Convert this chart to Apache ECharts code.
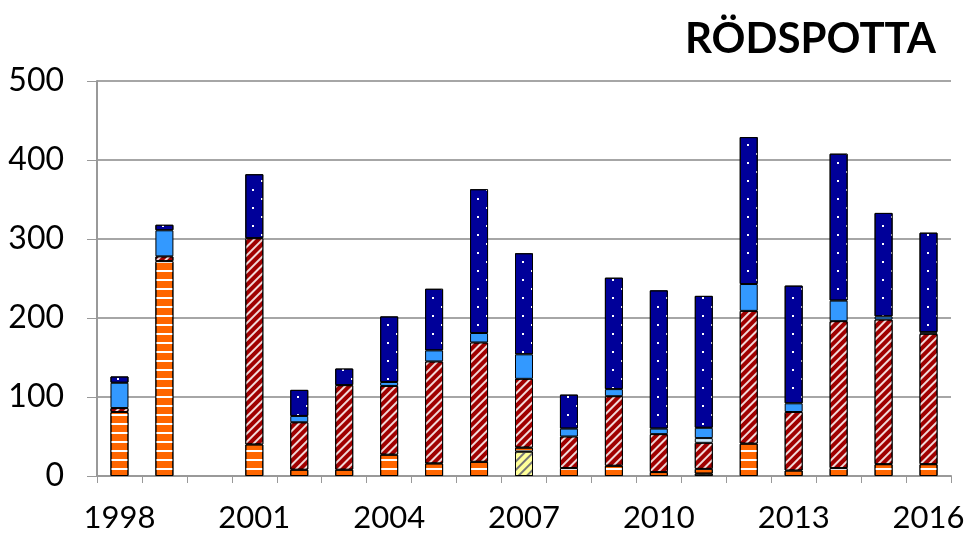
<!DOCTYPE html>
<html>
<head>
<meta charset="utf-8">
<script src="https://cdn.jsdelivr.net/npm/echarts@6/dist/echarts.min.js"></script>
<style>html,body{margin:0;padding:0;background:#fff;}#c{width:971px;height:535px;}</style>
</head>
<body>
<div id="c"></div>
<script>
var years = ['1998','1999','2000','2001','2002','2003','2004','2005','2006','2007','2008','2009','2010','2011','2012','2013','2014','2015','2016'];
var yellowVals = [0,0,0,0,0,0,0,0,0,31,0,0,0,3,0,0,0,0,0];
var orangeVals = [81,272,0,40,8,8,27,16,18,5,10,13,5,6,41,7,10,15,15];
var redVals    = [5,6,0,261,60,107,87,129,151,87,40,88,48,33,168,74,186,183,165];
var paleVals   = [0,0,0,0,0,0,0,0,0,0,0,0,0,6,0,0,0,0,0];
var blueVals   = [32,33,0,0,8,0,5,14,12,31,10,9,7,13,34,11,26,4,2];
var navyVals   = [8,7,0,81,33,21,83,78,182,128,43,141,175,167,186,149,186,131,126];
var yTicks = [0,100,200,300,400,500];
var titleText = 'RÖDSPOTTA';

function prep(a){ return a.map(function(v){ return v === 0 ? '-' : v; }); }
var FONT = 'Lato';
function mk(name, data, color, decal){
  var s = {
    name: name, type: 'bar', stack: 'all', data: prep(data), barWidth: 18,
    itemStyle: { color: color, borderColor: '#000', borderWidth: 1 },
    emphasis: { disabled: true }
  };
  if (decal) s.itemStyle.decal = decal;
  return s;
}
var chart = echarts.init(document.getElementById('c'), null, {renderer: 'canvas'});
chart.setOption({
  animation: false,
  backgroundColor: '#fff',
  title: { text: titleText, right: 30, top: 13, textStyle: { fontFamily: FONT, fontWeight: 'bold', fontSize: 42, color: '#000' } },
  grid: { left: 97, right: 20, top: 81, bottom: 59 },
  xAxis: {
    type: 'category', data: years,
    axisLine: { lineStyle: { color: '#999', width: 2 } },
    axisTick: { show: true, interval: 0, length: 7, lineStyle: { color: '#999', width: 1 } },
    axisLabel: { interval: 2, fontFamily: FONT, fontSize: 31, color: '#000', margin: 26 }
  },
  yAxis: {
    type: 'value', min: yTicks[0], max: yTicks[yTicks.length-1], interval: 100,
    axisLine: { show: true, lineStyle: { color: '#999', width: 2 } },
    axisTick: { show: true, length: 10, inside: false, lineStyle: { color: '#999', width: 1 } },
    splitLine: { lineStyle: { color: '#a6a6a6', width: 2 } },
    axisLabel: { fontFamily: FONT, fontSize: 32, color: '#000', margin: 33 }
  },
  series: [
    mk('yellow', yellowVals, '#FFFF99', { color: '#777', dashArrayX: [1,0], dashArrayY: [1.5,4], rotation: -Math.PI/4 }),
    mk('orange', orangeVals, '#FF6600', { color: '#ffffff', dashArrayX: [1,0], dashArrayY: [1.5,7] }),
    mk('red', redVals, '#A00000', { color: 'rgba(255,255,255,0.85)', dashArrayX: [1,0], dashArrayY: [1.5,3.5], rotation: -Math.PI/4 }),
    mk('pale', paleVals, '#CCECFF', null),
    mk('blue', blueVals, '#3399FF', null),
    mk('navy', navyVals, '#000099', { color: '#ffffff', symbol: 'rect', dashArrayX: [[2,16],[0,9,2,7]], dashArrayY: [2,6.5] })
  ]
});
</script>
</body>
</html>
